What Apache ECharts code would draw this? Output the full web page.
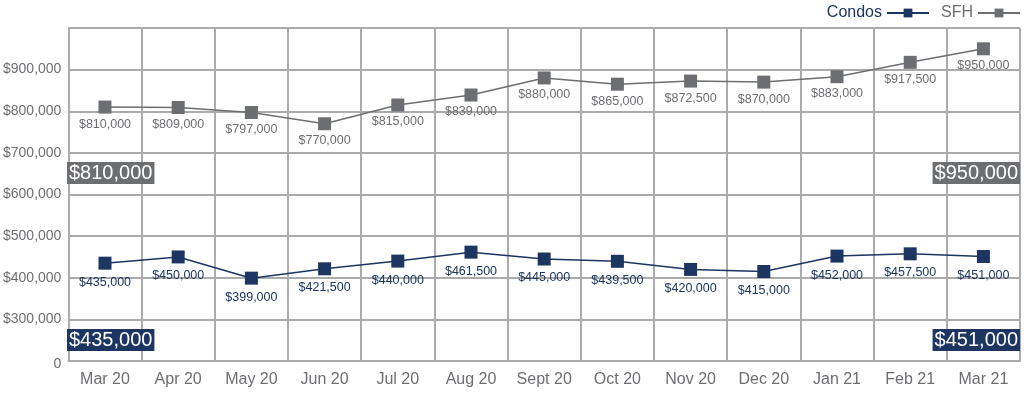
<!DOCTYPE html>
<html>
<head>
<meta charset="utf-8">
<script src="https://cdn.jsdelivr.net/npm/echarts@6/dist/echarts.min.js"></script>
<style>
html,body{margin:0;padding:0;background:#fff;}
#chart{width:1024px;height:394px;}
</style>
</head>
<body>
<div id="chart"></div>
<script>
const months = ['Mar 20','Apr 20','May 20','Jun 20','Jul 20','Aug 20','Sept 20','Oct 20','Nov 20','Dec 20','Jan 21','Feb 21','Mar 21'];
const condos = [435000,450000,399000,421500,440000,461500,445000,439500,420000,415000,452000,457500,451000];
const sfh = [810000,809000,797000,770000,815000,839000,880000,865000,872500,870000,883000,917500,950000];
const seriesNames = ['Condos','SFH'];

const NAVY = '#1c3561';
const GRAY = '#6d6e71';
const GRID = '#ababab';
const FONT = '"Liberation Sans", Arial, Helvetica, sans-serif';

function money(v){ return '$' + Number(v).toLocaleString('en-US'); }

const chart = echarts.init(document.getElementById('chart'), null, {renderer:'canvas'});

function boxText(value, color, pos){
  return Object.assign({
    type:'text',
    z: 100,
    style:{
      text: money(value),
      fill:'#ffffff',
      fontSize: 20,
      fontFamily: FONT,
      backgroundColor: color,
      padding:[1,2,1,2]
    }
  }, pos);
}

chart.setOption({
  animation:false,
  textStyle:{fontFamily:FONT},
  grid:{left:67, right:4, top:28, bottom:33, containLabel:false},
  legend:{
    right:3, top:5, padding:0,
    align:'right',
    itemWidth:42, itemHeight:11, itemGap:11,
    textStyle:{fontSize:16, fontFamily:FONT},
    data:[
      {name:seriesNames[0], textStyle:{color:NAVY}},
      {name:seriesNames[1], textStyle:{color:GRAY}}
    ]
  },
  xAxis:{
    type:'category',
    data:months,
    boundaryGap:true,
    axisTick:{show:false},
    axisLine:{lineStyle:{color:GRID, width:2}},
    splitLine:{show:true, lineStyle:{color:GRID, width:2}},
    axisLabel:{color:GRAY, fontSize:16, margin:11, fontFamily:FONT, interval:0}
  },
  yAxis:{
    type:'value',
    min:0, max:1000000, interval:100000,
    breaks:[{start:0, end:200000, gap:0}],
    breakArea:{show:false},
    axisLine:{show:true, lineStyle:{color:GRID, width:2}},
    axisTick:{show:false},
    splitLine:{show:true, lineStyle:{color:GRID, width:2}},
    axisLabel:{
      color:GRAY, fontSize:14, margin:7, fontFamily:FONT,
      formatter:function(v){
        if (v === 0) return '0';
        if (v < 300000 || v >= 1000000) return '';
        return money(v);
      }
    }
  },
  series:[
    {
      name:seriesNames[0], type:'line', data:condos,
      symbol:'rect', symbolSize:13,
      lineStyle:{color:NAVY, width:1.5},
      itemStyle:{color:NAVY},
      label:{show:true, position:'bottom', distance:6, color:NAVY, fontSize:12.5, fontFamily:FONT,
        formatter:function(p){return money(p.value);}}
    },
    {
      name:seriesNames[1], type:'line', data:sfh,
      symbol:'rect', symbolSize:13,
      lineStyle:{color:GRAY, width:1.5},
      itemStyle:{color:GRAY},
      label:{show:true, position:'bottom', distance:4, color:GRAY, fontSize:12.5, fontFamily:FONT,
        formatter:function(p){return money(p.value);}}
    }
  ],
  graphic:[
    boxText(sfh[0], GRAY, {left:67, top:162}),
    boxText(sfh[sfh.length-1], GRAY, {right:4, top:162}),
    boxText(condos[0], NAVY, {left:67, top:329}),
    boxText(condos[condos.length-1], NAVY, {right:4, top:329})
  ]
});
</script>
</body>
</html>
